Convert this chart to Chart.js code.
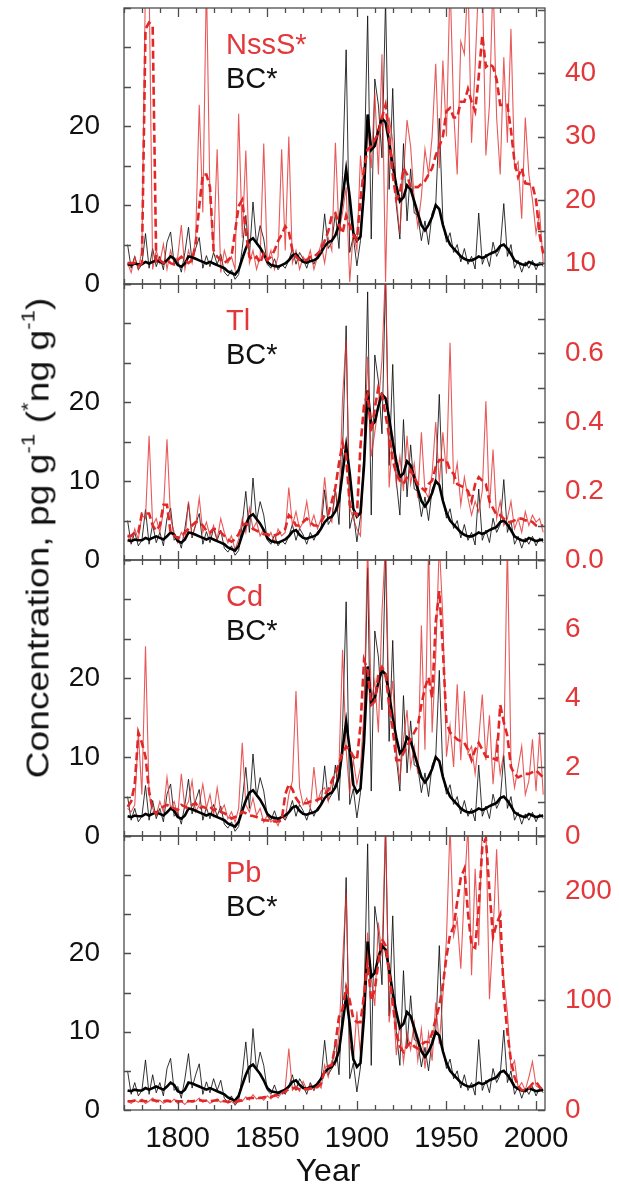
<!DOCTYPE html>
<html>
<head>
<meta charset="utf-8">
<script src="https://cdn.jsdelivr.net/npm/chart.js@4.4.1/dist/chart.umd.min.js"></script>
<style>
html,body{margin:0;padding:0;background:#fff;}
#wrap{position:relative;width:619px;height:1187px;overflow:hidden;font-family:"Liberation Sans",Arial,sans-serif;background:#fff;}
canvas{position:absolute;left:0;top:-40px;}
.lab{position:absolute;left:226px;font-size:29px;line-height:1;white-space:nowrap;}
.red{color:#e2383a;}
.blk{color:#111;}
#ytitle{position:absolute;left:38px;top:538px;font-size:31px;line-height:1;white-space:nowrap;color:#111;
  transform:translate(-50%,-50%) rotate(-90deg) scaleX(1.2);}
#ytitle sup{font-size:0.6em;vertical-align:0.75em;line-height:0;}
#xtitle{position:absolute;left:328px;top:1154px;font-size:32px;line-height:1;white-space:nowrap;color:#111;transform:translateX(-50%);}
</style>
</head>
<body>
<div id="wrap">
  <canvas id="c0" width="619" height="1227"></canvas>
  <canvas id="c1" width="619" height="1227"></canvas>
  <canvas id="c2" width="619" height="1227"></canvas>
  <canvas id="c3" width="619" height="1227"></canvas>
  <div class="lab red" style="top:30px">NssS*</div>
  <div class="lab blk" style="top:64px">BC*</div>
  <div class="lab red" style="top:306px">Tl</div>
  <div class="lab blk" style="top:340px">BC*</div>
  <div class="lab red" style="top:582px">Cd</div>
  <div class="lab blk" style="top:616px">BC*</div>
  <div class="lab red" style="top:858px">Pb</div>
  <div class="lab blk" style="top:892px">BC*</div>
  <div id="ytitle">Concentration, pg g<sup>-1</sup> (<sup>*</sup>ng g<sup>-1</sup>)</div>
  <div id="xtitle">Year</div>
</div>
<script>
// ---- categories (years) ----
const years = [1772,1774,1776,1778,1780,1782,1784,1786,1788,1790,
1792,1794,1796,1798,1800,1802,1804,1806,1808,1810,
1812,1814,1816,1818,1820,1822,1824,1826,1828,1830,
1832,1834,1836,1838,1840,1842,1844,1846,1848,1850,
1852,1854,1856,1858,1860,1862,1864,1866,1868,1870,
1872,1874,1876,1878,1880,1882,1884,1886,1888,1890,
1892,1894,1896,1898,1900,1902,1904,1906,1908,1910,
1912,1914,1916,1918,1920,1922,1924,1926,1928,1930,
1932,1934,1936,1938,1940,1942,1944,1946,1948,1950,
1952,1954,1956,1958,1960,1962,1964,1966,1968,1970,
1972,1974,1976,1978,1980,1982,1984,1986,1988,1990,
1992,1994,1996,1998,2000,2002,2004];

// ---- BC* (left axis) ----
const bcThin = [5.0,2.0,3.5,1.8,2.5,6.4,2.0,4.5,2.2,3.5,
1.8,5.3,6.6,2.5,3.0,1.5,4.0,7.2,2.8,4.5,
5.9,2.0,3.6,2.2,4.0,2.5,3.8,1.5,1.0,1.8,
0.6,1.2,4.5,8.7,3.5,10.4,5.0,7.4,5.7,2.5,
2.0,3.2,1.8,2.5,2.0,3.0,4.5,2.5,4.0,3.2,
2.0,3.5,2.5,3.6,4.0,8.9,4.5,5.3,9.0,4.5,
13.8,29.7,4.0,6.0,2.3,5.5,13.8,34.0,5.7,26.0,
22.7,16.0,36.0,12.0,24.8,10.0,5.7,17.8,8.0,14.6,
9.0,8.7,5.5,8.0,5.0,9.0,10.0,21.0,7.9,5.3,
6.5,4.0,5.0,2.8,4.5,2.5,3.5,1.9,9.0,2.5,
3.8,2.2,5.3,3.5,4.5,10.2,3.5,5.0,2.0,3.0,
1.5,2.8,2.0,3.0,1.8,2.8,2.2];
const bcSmooth = [2.5,2.4,2.6,2.5,2.5,2.8,2.6,2.8,3.0,2.8,
2.6,3.0,3.5,3.2,2.4,2.2,2.6,3.5,3.4,3.2,
3.0,2.8,2.6,2.8,2.6,2.4,2.2,2.0,1.6,1.4,
1.2,1.8,3.2,4.5,5.5,5.8,5.2,4.6,3.8,2.8,
2.4,2.3,2.2,2.4,2.6,3.0,3.6,3.8,3.2,2.8,
2.7,2.9,3.0,3.3,4.0,4.8,5.3,5.5,6.2,7.5,
11.0,14.5,11.0,6.5,5.5,6.0,12.0,21.5,17.0,17.5,
19.5,21.0,20.5,18.0,15.0,12.5,10.5,11.0,12.5,12.0,
10.5,9.0,7.5,6.8,7.5,8.5,10.0,9.5,7.5,6.0,
5.0,4.5,4.0,3.5,3.2,3.0,3.0,3.2,3.5,3.3,
3.5,3.8,4.0,4.2,4.8,5.0,4.5,3.8,3.0,2.7,
2.5,2.4,2.8,2.6,2.4,2.5,2.6];

// ---- NssS* (right axis, ng/g) ----
const nssThin = [10,8.5,11,9,12,55,55,9,12,10,
13,9,12,10,11,16,9,12,10,14,
35,18,55,20,12,28,8.5,12,10,11,
9,33.6,14,27.8,10,12,9,11,28.9,10,
12,9,11,28,12,30,10,12,9,11,
10,12,9,11,13,10,14,12,29,15,
18,22,7,15,12,27,20,31.5,25,37,
24,43,7,33,29.4,20,14.7,24,32.6,28.4,
20,15.8,20.5,28,24,30,41.5,25,42,30,
55,34,24,45,43,55,29,41,55,55,
27,35,55,33,24,42.5,29,47,25,26,
17,33,24,20,14.7,18,10];
const nssSmooth = [10,10,10,9.5,10,47,48,47.5,10,10.5,
10,10.5,10,9.8,10.5,11,10.5,10,10.5,13,
19,24,24,22,12,11,10.5,10,10.5,11,
15,19,20,15,11,10.5,11,10,11.5,10.5,
11,12,13.5,14.5,15.8,15,12,11,10.5,10.5,
10.5,11,11,11.5,12,13.5,15,17.5,17.9,16,
14.7,17.5,16,14.5,13.7,20,25,28,28.4,29.5,
30.5,33,35,30,24,20,21,25,24,22,
22,22,22.5,23,24,25,27,28.4,30,34,
34.5,33,33,35.5,35.5,37.5,35.5,34,39.5,46,
41,41.5,41,39,35,35,35,31,26,23.6,
25,22.6,22.5,22.3,20,14.5,11.5];

// ---- Tl (right axis) ----
const tlThin = [0.07,0.05,0.09,0.06,0.13,0.12,0.36,0.10,0.12,0.08,
0.14,0.35,0.12,0.08,0.05,0.08,0.06,0.17,0.07,0.10,
0.18,0.08,0.11,0.07,0.10,0.06,0.12,0.08,0.05,0.07,
0.03,0.06,0.12,0.08,0.15,0.09,0.11,0.07,0.09,0.06,
0.08,0.05,0.09,0.07,0.08,0.21,0.10,0.14,0.09,0.11,
0.17,0.10,0.13,0.09,0.12,0.24,0.13,0.11,0.20,0.15,
0.47,0.64,0.15,0.12,0.09,0.07,0.30,0.59,0.30,0.37,
0.45,0.58,0.85,0.21,0.36,0.22,0.30,0.20,0.36,0.22,
0.28,0.18,0.37,0.20,0.18,0.25,0.40,0.22,0.37,0.25,
0.63,0.22,0.28,0.16,0.24,0.18,0.13,0.17,0.14,0.20,
0.46,0.15,0.32,0.12,0.17,0.10,0.12,0.17,0.09,0.12,
0.08,0.14,0.10,0.13,0.11,0.12,0.08];
const tlSmooth = [0.07,0.07,0.08,0.08,0.135,0.135,0.135,0.10,0.085,0.10,
0.16,0.16,0.08,0.07,0.063,0.07,0.08,0.09,0.10,0.11,
0.11,0.10,0.085,0.08,0.09,0.09,0.08,0.07,0.06,0.053,
0.06,0.075,0.10,0.106,0.10,0.09,0.085,0.08,0.075,0.075,
0.07,0.072,0.075,0.085,0.09,0.13,0.12,0.10,0.10,0.11,
0.12,0.11,0.10,0.10,0.11,0.13,0.13,0.17,0.21,0.28,
0.34,0.30,0.16,0.14,0.13,0.33,0.45,0.48,0.37,0.44,
0.50,0.48,0.42,0.36,0.29,0.25,0.23,0.22,0.24,0.26,
0.24,0.22,0.21,0.20,0.22,0.23,0.27,0.29,0.29,0.29,
0.26,0.25,0.22,0.215,0.21,0.20,0.17,0.22,0.24,0.23,
0.22,0.17,0.15,0.13,0.13,0.12,0.11,0.11,0.115,0.12,
0.12,0.115,0.115,0.11,0.10,0.10,0.10];

// ---- Cd (right axis) ----
const cdThin = [0.8,0.7,0.9,3.0,1.2,5.5,1.2,0.8,0.6,1.0,
0.7,1.7,0.8,1.0,0.6,1.8,0.8,1.0,1.6,0.7,
0.9,1.5,0.8,1.2,0.6,1.4,0.7,0.9,0.5,0.7,
0.4,0.8,2.7,0.9,0.7,1.1,0.6,0.8,0.4,0.6,
0.4,0.5,0.3,0.6,0.5,1.2,1.6,4.2,1.4,0.9,
1.1,0.8,2.0,1.0,1.3,1.4,1.0,1.6,1.4,2.0,
5.4,2.5,1.2,2.2,1.5,2.0,3.6,8.5,3.9,4.5,
3.0,6.5,8.5,3.5,4.5,2.5,1.6,2.8,3.65,2.0,
2.6,1.8,6.1,2.5,8.5,3.0,5.2,8.5,6.3,2.3,
3.2,2.0,4.4,2.2,4.2,2.4,2.6,1.8,2.8,4.1,
2.2,3.5,1.5,2.8,1.8,2.4,8.5,2.2,1.4,2.0,
2.6,1.2,1.6,2.8,1.3,3.0,1.2];
const cdSmooth = [0.85,1.0,1.5,3.0,2.7,2.3,1.3,0.75,0.65,0.8,
0.85,0.9,0.85,0.8,0.75,0.9,0.85,0.8,0.9,0.95,
0.8,0.85,0.8,0.85,0.75,0.8,0.7,0.66,0.6,0.5,
0.55,0.6,0.7,0.66,0.6,0.58,0.55,0.5,0.46,0.45,
0.44,0.42,0.42,0.45,1.2,1.5,1.35,1.1,0.95,0.95,
0.95,1.0,1.0,1.05,1.1,1.2,1.33,1.6,1.8,2.1,
2.4,2.6,2.5,2.3,2.2,3.2,5.1,4.8,3.8,3.9,
4.7,4.9,4.7,3.8,3.1,2.2,2.2,2.4,2.6,2.8,
3.0,3.2,3.8,4.3,4.6,4.0,6.2,7.1,5.4,3.3,
3.0,2.9,2.8,2.75,2.7,2.5,2.2,2.5,2.7,2.5,
2.3,2.3,2.25,2.2,3.8,3.3,2.9,2.0,1.8,1.7,
1.75,1.8,1.8,1.85,1.9,1.8,1.7];

// ---- Pb (right axis) ----
const pbThin = [8,6,9,7,10,6,8,11,7,9,
6,8,7,10,6,8,5,9,7,8,
11,7,9,6,8,10,7,9,6,8,
5,10,8,12,9,14,10,12,9,13,
10,14,11,16,20,56,18,22,17,26,
19,23,18,25,20,41,30,45,41,70,
135,198,60,45,90,50,114,162,120,95,
171,140,260,80,110,50,80,44,70,55,
80,45,74,38,70,45,98,60,105,156,
260,159,174,129,201,260,123,220,150,260,
260,101,160,238,150,120,89,38,45,20,
25,18,30,44,22,20,18];
const pbSmooth = [8,8,8.5,8,8.5,8,8.5,9,8.5,8,
8,8.5,8,8.5,8,8,7.5,8,8,8.5,
9,8.5,8.5,8,8.5,9,8.5,8,7.5,7.5,
7.5,8,9,10,11,11,11,11,11.5,12,
12,13,14,15,17,19,20,20,19,19,
19,19.5,20,21,24,36,40,41,60,85,
92,112,100,83,80,80,105,135,100,110,
135,156,150,125,98,70,58,53,58,62,
58,56,60,62,62,70,83,95,114,140,
160,167,190,212,220,180,150,148,185,240,
248,200,158,170,178,105,71,45,30,22,
18,18,20,24,26,21,18];

// ---- tick labels ----
const xTickLabels = [1800,1850,1900,1950,2000];
const bcTickLabels = [0,10,20];
const nssTickLabels = [10,20,30,40];
const tlTickLabels = [0,0.2,0.4,0.6];
const cdTickLabels = [0,2,4,6];
const pbTickLabels = [0,100,200];
// tick marks
const xTickMarks = [1770,1780,1790,1800,1810,1820,1830,1840,1850,1860,1870,1880,1890,1900,1910,1920,1930,1940,1950,1960,1970,1980,1990,2000];
const bcTickMarks = [0,5,10,15,20,25,30,35];
const nssTickMarks = [10,15,20,25,30,35,40,45,50];
const tlTickMarks = [0,0.1,0.2,0.3,0.4,0.5,0.6,0.7,0.8];
const cdTickMarks = [0,1,2,3,4,5,6,7,8];
const pbTickMarks = [0,50,100,150,200,250];

const RED = '#e2383a';
const FONT = '"Liberation Sans", Arial, sans-serif';
const OFF = 40;           // canvas is shifted up by this much
const PAGE_H = 1187;
const XAXIS_H = 60;

const panels = [
  {id:'c0', name:'NssS*', thin:nssThin, smooth:nssSmooth, min:6.7, max:50.3, labels:nssTickLabels, marks:nssTickMarks, dec:0, top:8,   bottom:284},
  {id:'c1', name:'Tl',    thin:tlThin,  smooth:tlSmooth,  min:0,   max:0.8,  labels:tlTickLabels,  marks:tlTickMarks,  dec:1, top:284, bottom:560},
  {id:'c2', name:'Cd',    thin:cdThin,  smooth:cdSmooth,  min:0,   max:8,    labels:cdTickLabels,  marks:cdTickMarks,  dec:0, top:560, bottom:836},
  {id:'c3', name:'Pb',    thin:pbThin,  smooth:pbSmooth,  min:0,   max:250,  labels:pbTickLabels,  marks:pbTickMarks,  dec:0, top:836, bottom:1110}
];

function toXY(arr){ return years.map((y,i)=>({x:y, y:arr[i]})); }

const framePlugin = {
  id:'frame',
  afterDatasetsDraw(chart, args, opts){
    const {ctx, chartArea:a, scales} = chart;
    ctx.save();
    ctx.strokeStyle = '#4d4d4d';
    ctx.lineWidth = 1.3;
    ctx.beginPath();
    xTickMarks.forEach(v=>{
      const px = Math.round(scales.x.getPixelForValue(v))+0.5;
      const len = (v % 50 === 0) ? 9 : 5;
      ctx.moveTo(px, a.bottom); ctx.lineTo(px, a.bottom-len);
      ctx.moveTo(px, a.top); ctx.lineTo(px, a.top+len);
    });
    bcTickMarks.forEach(v=>{
      const py = Math.round(scales.yL.getPixelForValue(v))+0.5;
      ctx.moveTo(a.left, py); ctx.lineTo(a.left+7, py);
    });
    opts.marks.forEach(v=>{
      const py = Math.round(scales.yR.getPixelForValue(v))+0.5;
      ctx.moveTo(a.right, py); ctx.lineTo(a.right-7, py);
    });
    ctx.stroke();
    ctx.strokeRect(a.left, a.top, a.right-a.left, a.bottom-a.top);
    ctx.restore();
  }
};

panels.forEach((p, idx)=>{
  const isLast = idx === panels.length-1;
  const xh = isLast ? XAXIS_H : 0;
  new Chart(document.getElementById(p.id), {
    type:'line',
    data:{ datasets:[
      {label:p.name+' (smoothed)', data:toXY(p.smooth), yAxisID:'yR', borderColor:'#e02828', borderWidth:2.6, borderDash:[8,4], order:0},
      {label:'BC* (smoothed)', data:toXY(bcSmooth), yAxisID:'yL', borderColor:'#000', borderWidth:2.6, order:1},
      {label:p.name, data:toXY(p.thin), yAxisID:'yR', borderColor:'rgba(226,48,48,0.8)', borderWidth:1.1, order:2},
      {label:'BC*', data:toXY(bcThin), yAxisID:'yL', borderColor:'rgba(15,15,15,0.85)', borderWidth:1, order:3}
    ]},
    options:{
      responsive:false, animation:false, devicePixelRatio:1,
      layout:{padding:{left:0, right:0, top:OFF+p.top, bottom:PAGE_H-p.bottom-xh}},
      elements:{point:{radius:0}, line:{tension:0, borderJoinStyle:'miter'}},
      plugins:{legend:{display:false}, tooltip:{enabled:false}, title:{display:false}, frame:{marks:p.marks}},
      scales:{
        x:{type:'linear', min:1770, max:2005, position:'bottom',
           grid:{display:false, drawTicks:false}, border:{display:false},
           afterBuildTicks:s=>{ s.ticks = xTickLabels.map(v=>({value:v})); },
           afterFit:s=>{ s.height = xh; },
           ticks:{display:isLast, autoSkip:false, maxRotation:0, minRotation:0, padding:12, color:'#111',
                  font:{family:FONT, size:29}, callback:v=>String(v)}},
        yL:{type:'linear', position:'left', min:0, max:35,
            grid:{display:false, drawTicks:false}, border:{display:false},
            afterBuildTicks:s=>{ s.ticks = bcTickLabels.map(v=>({value:v})); },
            afterFit:s=>{ s.width = 124; },
            ticks:{autoSkip:false, padding:24, color:'#111', font:{family:FONT, size:28}, callback:v=>String(v)}},
        yR:{type:'linear', position:'right', min:p.min, max:p.max,
            grid:{display:false, drawTicks:false}, border:{display:false},
            afterBuildTicks:s=>{ s.ticks = p.labels.map(v=>({value:v})); },
            afterFit:s=>{ s.width = 74; },
            ticks:{autoSkip:false, padding:20, color:RED, font:{family:FONT, size:28}, callback:v=>Number(v).toFixed(p.dec)}}
      }
    },
    plugins:[framePlugin]
  });
});
</script>
</body>
</html>
